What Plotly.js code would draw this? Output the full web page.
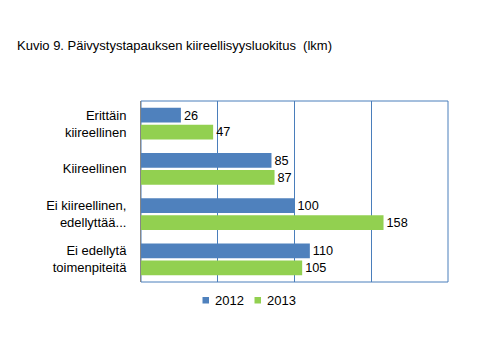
<!DOCTYPE html>
<html><head><meta charset="utf-8">
<script src="https://cdn.plot.ly/plotly-3.0.1.min.js"></script>
<style>body{margin:0;background:#fff}</style>
</head><body>
<div id="chart" style="width:480px;height:360px"></div>
<script>
const categories = ["Erittäin<br>kiireellinen", "Kiireellinen", "Ei kiireellinen,<br>edellyttää...", "Ei edellytä<br>toimenpiteitä"];
const values2012 = [26, 85, 100, 110];
const values2013 = [47, 87, 158, 105];
const seriesNames = ["2012", "2013"];
const seriesColors = ["#4F81BD", "#92D050"];

const font = "Liberation Sans, Arial, sans-serif";
const seriesValues = [values2012, values2013];
const traces = seriesNames.map((name, i) => ({
  type: "bar", orientation: "h", name: name, y: categories, x: seriesValues[i],
  marker: {color: seriesColors[i]}, text: seriesValues[i].map(String), textposition: "outside",
  textfont: {color: "#000", size: 13, family: font}, cliponaxis: false, showlegend: false
}));

// plot area in pixels: left 141, width 307, top 101, height 181
const L = 141, W = 307, B = 282, H = 181;
const px = x => (x - L) / W;
const py = y => (B - y) / H;
const legendShapes = [], legendAnn = [];
seriesNames.forEach((name, i) => {
  const x0 = 202.5 + i * 52;
  legendShapes.push({type: "rect", xref: "paper", yref: "paper", x0: px(x0), x1: px(x0 + 6.5),
    y0: py(297), y1: py(303.5), fillcolor: seriesColors[i], line: {width: 0}});
  legendAnn.push({xref: "paper", yref: "paper", x: px(x0 + 10.5), y: py(300.5), xanchor: "left",
    yanchor: "middle", text: name, showarrow: false, font: {size: 13, color: "#000", family: font}});
});

const layout = {
  width: 480, height: 360,
  margin: {l: 141, r: 32, t: 101, b: 78},
  paper_bgcolor: "#fff", plot_bgcolor: "#fff",
  font: {family: font, size: 13, color: "#000"},
  title: {text: "Kuvio 9. Päivystystapauksen kiireellisyysluokitus  (lkm)", x: 17/480, xanchor: "left",
          xref: "container", y: 1 - 45/360, yref: "container", yanchor: "middle",
          font: {size: 13, family: font, color: "#000"}},
  barmode: "group", bargap: 0.255, bargroupgap: 0.13,
  xaxis: {range: [0, 200], dtick: 50, tick0: 0, showgrid: true, gridcolor: "#4A7EBB", gridwidth: 1,
          showticklabels: false, ticks: "", zeroline: false, showline: false},
  yaxis: {autorange: "reversed", showline: true, linecolor: "#868686", linewidth: 1, ticks: "",
          ticklabelstandoff: 11, tickfont: {size: 13, color: "#000", family: font}},
  shapes: [{type: "rect", xref: "paper", yref: "paper", x0: 0, x1: 1, y0: 0, y1: 1,
            line: {color: "#4A7EBB", width: 1}, layer: "below"}].concat(legendShapes),
  annotations: legendAnn,
  showlegend: false
};
Plotly.newPlot("chart", traces, layout, {displayModeBar: false, staticPlot: true});
</script>
</body></html>
